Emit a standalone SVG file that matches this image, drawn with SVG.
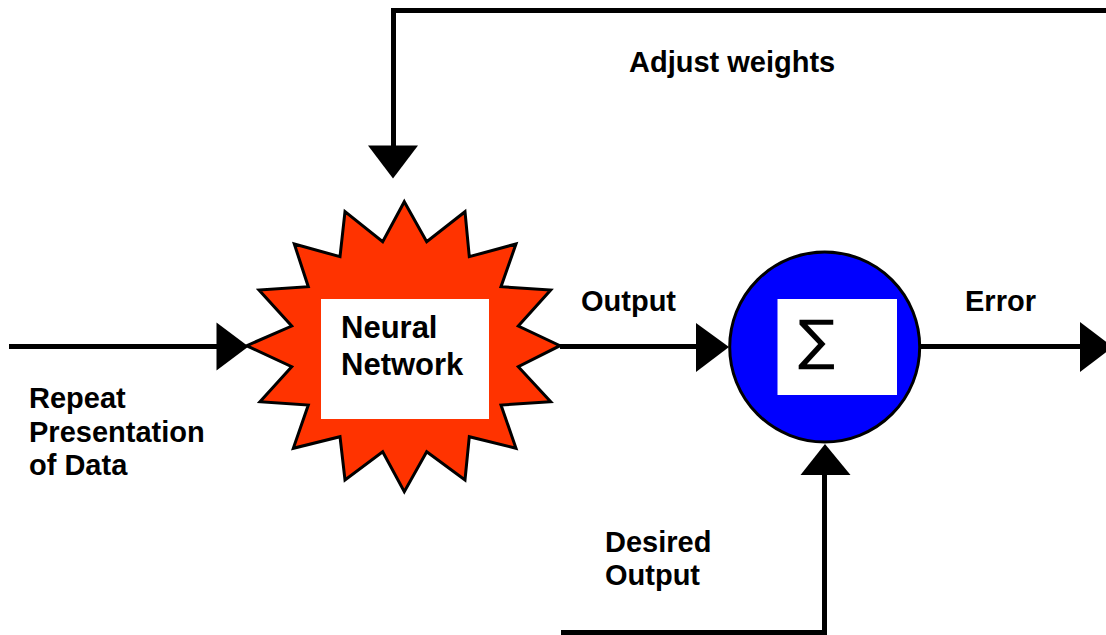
<svg xmlns="http://www.w3.org/2000/svg" width="1106" height="635" viewBox="0 0 1106 635">
<style>
.lbl{font-family:"Liberation Sans",Arial,sans-serif;font-weight:bold;font-size:29px;fill:#000}
.ln{stroke:#000;stroke-width:5;fill:none}
.ah{fill:#000}
</style>
<rect width="1106" height="635" fill="#fff"/>
<g id="connectors">
<path class="ln" d="M9,346.5 H218"/>
<polygon class="ah" points="216.5,322.5 248.5,346.5 216.5,370.5"/>
<path class="ln" d="M560,346.5 H698"/>
<polygon class="ah" points="696,323 729,347 696,372"/>
<path class="ln" d="M921,346.5 H1082"/>
<polygon class="ah" points="1080,322 1113,347 1080,372"/>
<path class="ln" d="M1106,10.5 H393.5 V147"/>
<polygon class="ah" points="368,145.5 418,145.5 393,178.5"/>
<path class="ln" d="M561,632.5 H824.5 V473"/>
<polygon class="ah" points="800.5,475 850.5,475 825,444"/>
</g>
<g id="neural-network">
<polygon fill="#FF3300" stroke="#000" stroke-width="3" stroke-linejoin="miter" points="404.3,201.7 426.7,241.7 465,211.7 469.3,256.7 516,244 501,286.7 550.7,290 518.3,326 560,345.7 518.3,366.7 550.7,401.7 501,405 516,448.3 469.3,436.7 465,480 426.7,451.7 404.3,491.7 382.7,451.7 345,480 340,436.7 293.3,448.3 308.3,405 260,401.7 291.7,366.7 246.7,345.7 291.7,326 259,290 308.3,286.7 294.3,244 340,256.7 345,211.7 382.7,241.7"/>
<rect x="321" y="299" width="168" height="120" fill="#fff"/>
<text class="lbl" style="font-size:31px" x="341" y="337.5">Neural</text>
<text class="lbl" style="font-size:31px" x="341" y="375">Network</text>
</g>
<g id="sum">
<circle cx="824.7" cy="347" r="95" fill="#0000FF" stroke="#000" stroke-width="3"/>
<rect x="777.5" y="299" width="119.5" height="96" fill="#fff"/>
<text x="798" y="358.5" style="font-family:'DejaVu Sans',sans-serif;font-size:55px" fill="#000">∑</text>
</g>
<g id="labels">
<text class="lbl" x="629" y="72">Adjust weights</text>
<text class="lbl" x="581" y="311">Output</text>
<text class="lbl" x="965" y="311">Error</text>
<text class="lbl" x="29" y="408">Repeat</text>
<text class="lbl" x="29" y="441.5">Presentation</text>
<text class="lbl" x="29" y="475">of Data</text>
<text class="lbl" x="605" y="552">Desired</text>
<text class="lbl" x="605" y="585">Output</text>
</g>
</svg>
